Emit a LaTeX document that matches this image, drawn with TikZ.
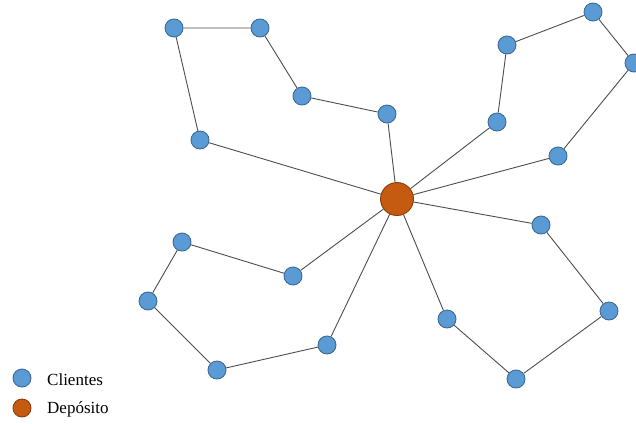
\documentclass[tikz,border=0pt]{standalone}
\usepackage{fontspec}
\setmainfont{Liberation Serif}
\usetikzlibrary{positioning,backgrounds}
\definecolor{cliblue}{HTML}{5B9BD5}
\definecolor{cliedge}{HTML}{3E6A94}
\definecolor{deporange}{HTML}{C55A11}
\definecolor{depedge}{HTML}{8A3D0A}
\definecolor{routegray}{HTML}{4D4D4D}
\begin{document}
\begin{tikzpicture}[x=1pt,y=-1pt,
  cli/.style={circle,draw=cliedge,line width=.9pt,fill=cliblue,minimum size=18pt,inner sep=0pt},
  dep/.style={circle,draw=depedge,line width=.9pt,fill=deporange,minimum size=33pt,inner sep=0pt},
  route/.style={draw=routegray,line width=.9pt},
  leg/.style={font=\fontsize{17}{19}\selectfont,anchor=west,inner sep=0pt}]
  \useasboundingbox (0,0) rectangle (636,423);
  % depot and clients
  \node[dep] (depot) at (397,199) {};
  \node[cli] (c1) at (200,140) {};\node[cli] (c2) at (174,28) {};\node[cli] (c3) at (260,28) {};
  \node[cli] (c4) at (302,96) {};\node[cli] (c5) at (387,114) {};
  \node[cli] (c6) at (497,122) {};\node[cli] (c7) at (507,45) {};\node[cli] (c8) at (593,12) {};
  \node[cli] (c9) at (634,63) {};\node[cli] (c10) at (558,156) {};
  \node[cli] (c11) at (541,225) {};\node[cli] (c12) at (609,311) {};\node[cli] (c13) at (516,379) {};
  \node[cli] (c14) at (447,319) {};
  \node[cli] (c15) at (293,276) {};\node[cli] (c16) at (182,242) {};\node[cli] (c17) at (148,301) {};
  \node[cli] (c18) at (217,370) {};\node[cli] (c19) at (327,345) {};
  % routes
  \begin{scope}[on background layer]
  \path[route] (depot)--(c1)--(c2)--(c3)--(c4)--(c5)--(depot);
  \path[route] (depot)--(c6)--(c7)--(c8)--(c9)--(c10)--(depot);
  \path[route] (depot)--(c11)--(c12)--(c13)--(c14)--(depot);
  \path[route] (depot)--(c15)--(c16)--(c17)--(c18)--(c19)--(depot);
  \end{scope}
  % legend
  \node[cli] (lc) at (22,378) {};
  \node[leg] (lct) at (47,380) {Clientes};
  \node[dep,minimum size=18pt] (ld) at (22,408) {};
  \node[leg] (ldt) at (47,409) {Depósito};
\end{tikzpicture}
\end{document}
